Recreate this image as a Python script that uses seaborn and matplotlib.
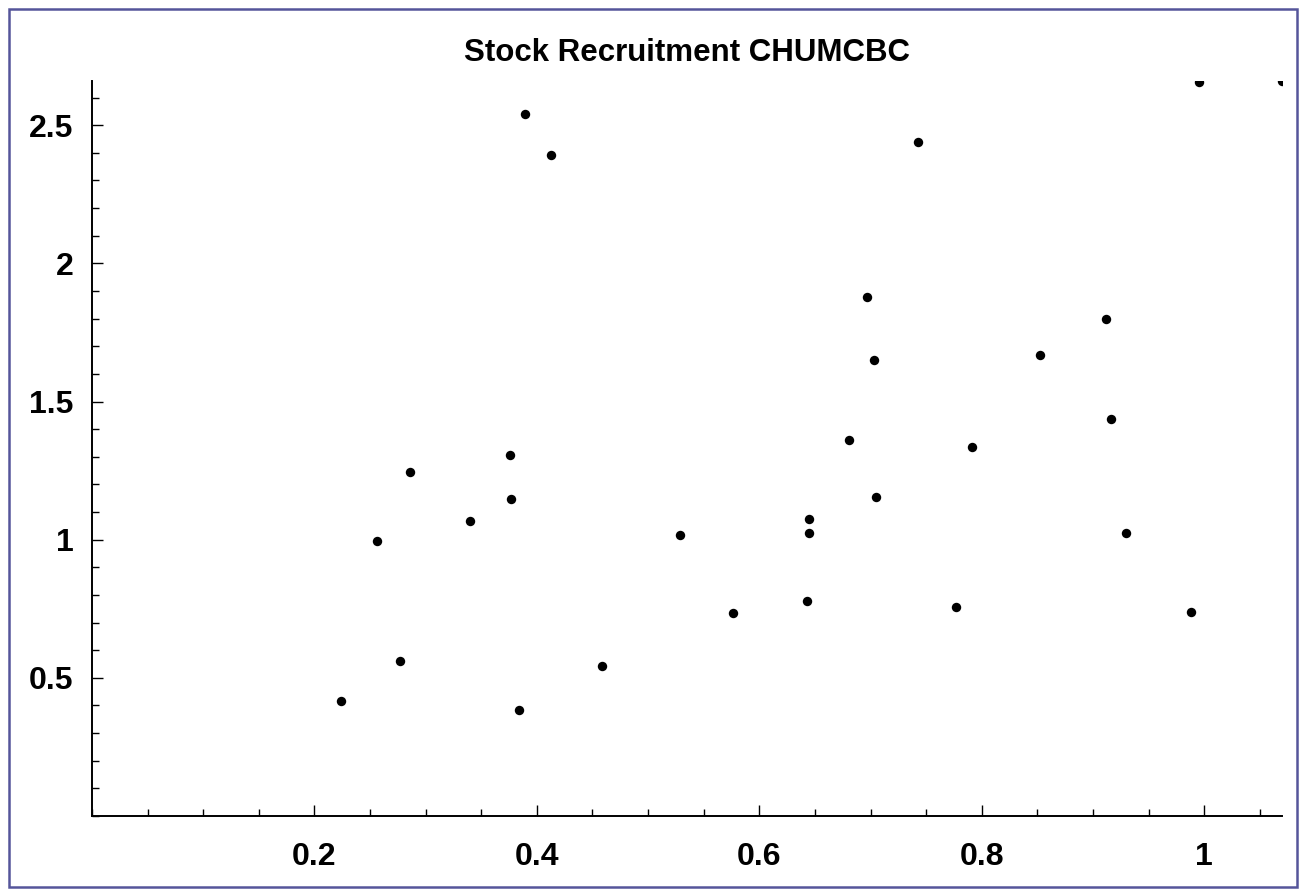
import matplotlib
matplotlib.use("Agg")
import matplotlib.pyplot as plt
from matplotlib.patches import Rectangle
from matplotlib.ticker import MultipleLocator, FuncFormatter
import seaborn as sns
import pandas as pd

# Spawning stock (x) and recruitment (y) for CHUMCBC
stock = [0.224, 0.256, 0.277, 0.286, 0.340, 0.376, 0.377, 0.384, 0.389, 0.413,
         0.459, 0.529, 0.576, 0.643, 0.645, 0.645, 0.681, 0.697, 0.703, 0.705,
         0.743, 0.777, 0.791, 0.852, 0.912, 0.916, 0.930, 0.988, 0.995, 1.070]
recruits = [0.417, 0.996, 0.562, 1.246, 1.069, 1.308, 1.149, 0.384, 2.540, 2.391,
            0.543, 1.018, 0.736, 0.779, 1.076, 1.025, 1.359, 1.877, 1.649, 1.156,
            2.438, 0.757, 1.337, 1.667, 1.797, 1.438, 1.025, 0.739, 2.656, 2.660]

x_ticks = [0.2, 0.4, 0.6, 0.8, 1.0]
y_ticks = [0.5, 1.0, 1.5, 2.0, 2.5]
title = "Stock Recruitment CHUMCBC"

df = pd.DataFrame({"stock": stock, "recruits": recruits})

sns.set_style("ticks")
plt.rcParams["font.family"] = ["Liberation Sans", "DejaVu Sans"]

W, H = 1299, 889
fig = plt.figure(figsize=(W / 100, H / 100), dpi=100)
fig.patch.set_facecolor("white")
ax = fig.add_axes([92 / W, (H - 816) / H, (1282 - 92) / W, (816 - 81) / H])

sns.scatterplot(data=df, x="stock", y="recruits", ax=ax, color="black",
                s=46, linewidth=0, legend=False)

ax.set_xlim(0, max(stock))
ax.set_ylim(0, max(recruits))

ax.set_xticks(x_ticks)
ax.set_yticks(y_ticks)
ax.xaxis.set_minor_locator(MultipleLocator(0.05))
ax.yaxis.set_minor_locator(MultipleLocator(0.1))

fmt = FuncFormatter(lambda v, p: f"{v:g}")
ax.xaxis.set_major_formatter(fmt)
ax.yaxis.set_major_formatter(fmt)

ax.tick_params(which="both", direction="in", color="black", width=1.0)
ax.tick_params(which="major", length=8)
ax.tick_params(which="minor", length=5)
ax.tick_params(axis="x", which="major", pad=18.5)
ax.tick_params(axis="y", which="major", pad=13.5)
for lab in ax.get_xticklabels() + ax.get_yticklabels():
    lab.set_fontsize(23)
    lab.set_fontweight("bold")
    lab.set_color("black")

ax.set_xlabel("")
ax.set_ylabel("")
for side in ("top", "right"):
    ax.spines[side].set_visible(False)
for side in ("left", "bottom"):
    ax.spines[side].set_color("black")
    ax.spines[side].set_linewidth(1.4)

fig.text(687 / W, 1 - 53 / H, title, ha="center", va="center",
         fontsize=22.5, fontweight="bold", color="black")

# Frame around the whole graphic
fig.patches.append(Rectangle((9 / W, 2 / H), (1297 - 9) / W, (887 - 9) / H,
                             transform=fig.transFigure, fill=False,
                             edgecolor="#55559a", linewidth=1.8))

fig.savefig("out.png", dpi=100, facecolor="white")
